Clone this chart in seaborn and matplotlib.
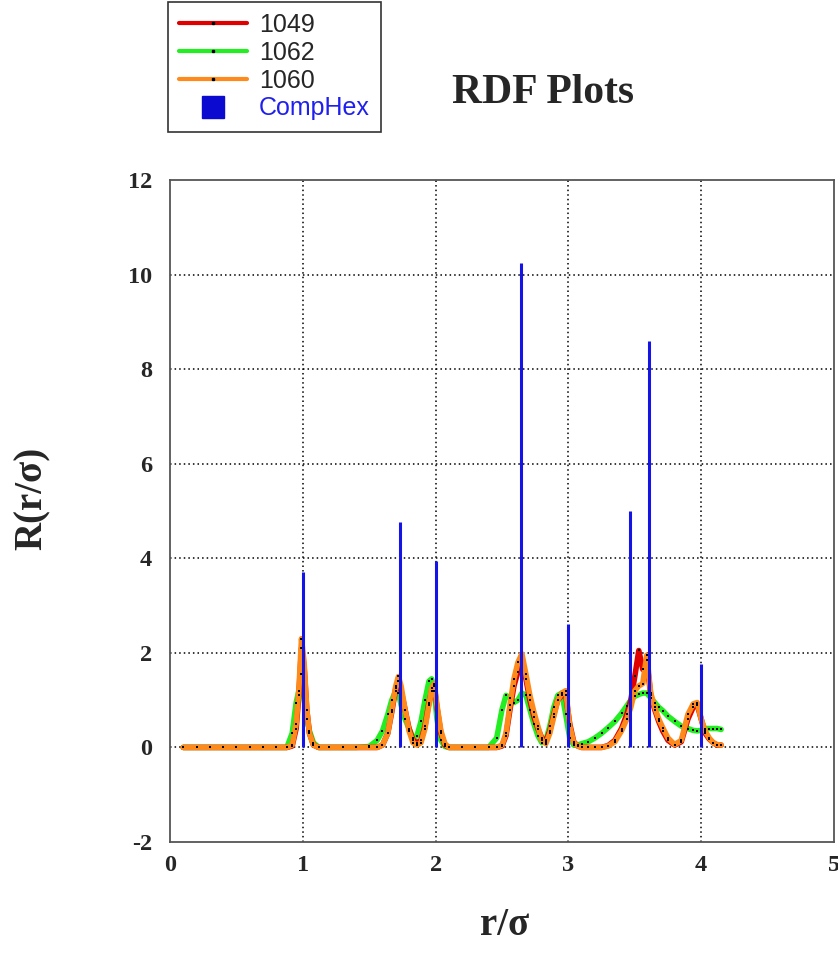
import numpy as np
import pandas as pd
import matplotlib
matplotlib.use("Agg")
import matplotlib.pyplot as plt
from matplotlib.lines import Line2D
import seaborn as sns

# ---------------- data ----------------
r = [0.10, 0.20, 0.30, 0.40, 0.50, 0.60, 0.70, 0.80, 0.88, 0.92,
     0.95, 0.97, 0.99, 1.01, 1.03, 1.05, 1.08, 1.12, 1.20, 1.30,
     1.40, 1.50, 1.56, 1.60, 1.64, 1.67, 1.70, 1.72, 1.74, 1.77,
     1.80, 1.83, 1.86, 1.89, 1.92, 1.95, 1.97, 1.99, 2.01, 2.04,
     2.07, 2.10, 2.20, 2.30, 2.40, 2.46, 2.50, 2.53, 2.56, 2.59,
     2.62, 2.65, 2.68, 2.71, 2.74, 2.77, 2.80, 2.83, 2.86, 2.89,
     2.92, 2.95, 2.98, 3.01, 3.04, 3.07, 3.10, 3.15, 3.20, 3.25,
     3.30, 3.35, 3.40, 3.44, 3.47, 3.50, 3.53, 3.56, 3.59, 3.62,
     3.65, 3.68, 3.71, 3.75, 3.80, 3.85, 3.90, 3.94, 3.97, 4.00,
     4.03, 4.06, 4.09, 4.12, 4.15]

g1049 = [0, 0, 0, 0, 0, 0, 0, 0, 0, 0.03,
         0.4, 1.1, 2.1, 1.7, 0.8, 0.3, 0.05, 0, 0, 0,
         0, 0, 0, 0.05, 0.3, 0.75, 1.25, 1.4, 1.2, 0.8,
         0.4, 0.15, 0.1, 0.15, 0.45, 0.95, 1.2, 1.3, 0.85, 0.3,
         0.05, 0, 0, 0, 0, 0, 0.03, 0.25, 0.8, 1.3,
         1.6, 1.7, 1.45, 1.0, 0.65, 0.4, 0.2, 0.12, 0.35, 0.7,
         1.0, 1.1, 1.1, 0.5, 0.12, 0.03, 0, 0, 0, 0,
         0.04, 0.15, 0.4, 0.7, 1.0, 1.5, 2.05, 1.65, 1.85, 1.1,
         0.8, 0.55, 0.35, 0.15, 0.05, 0.12, 0.6, 0.85, 0.9, 0.6,
         0.3, 0.18, 0.1, 0.05, 0.05]

g1062 = [0, 0, 0, 0, 0, 0, 0, 0, 0, 0.3,
         0.95, 1.2, 1.55, 1.0, 0.6, 0.35, 0.1, 0, 0, 0,
         0, 0.02, 0.15, 0.35, 0.7, 1.0, 1.2, 1.15, 0.9, 0.6,
         0.4, 0.2, 0.25, 0.55, 1.0, 1.4, 1.45, 1.2, 0.6, 0.15,
         0.02, 0, 0, 0, 0, 0.2, 0.8, 1.1, 1.05, 0.95,
         1.0, 1.15, 1.1, 0.8, 0.5, 0.25, 0.1, 0.15, 0.45, 0.85,
         1.1, 1.15, 0.7, 0.2, 0.05, 0.05, 0.08, 0.12, 0.2, 0.3,
         0.42, 0.55, 0.72, 0.88, 1.0, 1.08, 1.12, 1.15, 1.15, 1.05,
         0.95, 0.85, 0.78, 0.66, 0.55, 0.45, 0.4, 0.36, 0.35, 0.36,
         0.4, 0.4, 0.4, 0.4, 0.38]

g1060 = [0, 0, 0, 0, 0, 0, 0, 0, 0, 0.05,
         0.5, 1.2, 2.3, 1.8, 0.8, 0.3, 0.05, 0, 0, 0,
         0, 0, 0, 0.05, 0.3, 0.8, 1.3, 1.5, 1.3, 0.8,
         0.35, 0.1, 0.05, 0.1, 0.4, 0.9, 1.25, 1.35, 0.9, 0.35,
         0.08, 0, 0, 0, 0, 0, 0.05, 0.3, 0.9, 1.45,
         1.8, 1.98, 1.55, 1.1, 0.75, 0.45, 0.15, 0.08, 0.3, 0.65,
         1.0, 1.15, 1.2, 0.45, 0.1, 0.03, 0, 0, 0, 0,
         0.03, 0.12, 0.35, 0.6, 0.85, 1.2, 1.3, 1.35, 1.95, 1.15,
         0.85, 0.6, 0.42, 0.2, 0.06, 0.15, 0.7, 0.92, 0.95, 0.6,
         0.35, 0.2, 0.1, 0.06, 0.05]

hex_r = [1.0, 1.732, 2.0, 2.646, 3.0, 3.464, 3.606, 4.0]
hex_h = [3.72, 4.76, 3.94, 10.24, 2.6, 5.0, 8.59, 1.76]

xticks = [0, 1, 2, 3, 4, 5]
yticks = [-2, 0, 2, 4, 6, 8, 10, 12]

# ---------------- plot ----------------
sns.set_style("white")
plt.rcParams["font.family"] = ["DejaVu Sans"]
plt.rcParams["axes.unicode_minus"] = False

fig = plt.figure(figsize=(8.38, 9.55), dpi=100)
ax = fig.add_axes([170 / 838, 1 - 842 / 955, 664 / 838, 662 / 955])

colors = {"1049": "#e00000", "1060": "#ff8a1c", "1062": "#22ee22"}
frames = []
for name, vals in [("1049", g1049), ("1060", g1060), ("1062", g1062)]:
    frames.append(pd.DataFrame({"r": r, "g": vals, "run": name}))
df = pd.concat(frames, ignore_index=True)

for i, name in enumerate(["1062", "1049", "1060"]):
    sub = df[df["run"] == name]
    sns.lineplot(data=sub, x="r", y="g", ax=ax, color=colors[name], lw=4,
                 sort=False, estimator=None, legend=False, zorder=3 + i)
for name in ["1062", "1049", "1060"]:
    sub = df[df["run"] == name]
    sns.scatterplot(data=sub, x="r", y="g", ax=ax, color="black", s=3,
                    marker="s", linewidth=0, legend=False, zorder=7)

ax.vlines(hex_r, 0, hex_h, colors="#1414e6", lw=2.2, zorder=8)

ax.set_xlim(0, 5)
ax.set_ylim(-2, 12)
ax.set_xticks(xticks)
ax.set_yticks(yticks)
ax.set_xticklabels([str(t) for t in xticks])
ax.set_yticklabels([str(t) for t in yticks])
ax.tick_params(axis="y", length=0, pad=13)
ax.tick_params(axis="x", length=0, pad=9)
for lab in ax.get_xticklabels() + ax.get_yticklabels():
    lab.set_fontfamily("Liberation Serif")
    lab.set_fontweight("bold")
    lab.set_fontsize(17.5)
ax.set_xlabel("")
ax.set_ylabel("")

for xv in [1, 2, 3, 4]:
    ax.axvline(xv, color="black", lw=1.1, ls=(0, (1, 2)), zorder=1)
for yv in [0, 2, 4, 6, 8, 10]:
    ax.axhline(yv, color="black", lw=1.1, ls=(0, (1, 2)), zorder=1)

for sp in ax.spines.values():
    sp.set_color("#555555")
    sp.set_linewidth(1.3)

fig.text(32 / 838, 1 - 498 / 955, "R(r/σ)", rotation=90, ha="center", va="center",
         fontfamily="Liberation Serif", fontweight="bold", fontsize=28)
fig.text(505 / 838, 1 - 925 / 955, "r/σ", ha="center", va="center",
         fontfamily="Liberation Serif", fontweight="bold", fontsize=28)
fig.text(543 / 838, 1 - 93 / 955, "RDF Plots", ha="center", va="center",
         fontfamily="Liberation Serif", fontweight="bold", fontsize=30)

handles = [
    Line2D([], [], color=colors["1049"], lw=3, marker="s", markersize=2,
           markerfacecolor="black", markeredgecolor="black"),
    Line2D([], [], color=colors["1062"], lw=3, marker="s", markersize=2,
           markerfacecolor="black", markeredgecolor="black"),
    Line2D([], [], color=colors["1060"], lw=3, marker="s", markersize=2,
           markerfacecolor="black", markeredgecolor="black"),
    Line2D([], [], color="#0a0ad0", lw=0, marker="s", markersize=16),
]
leg = fig.legend(handles, ["1049", "1062", "1060", "CompHex"],
                 loc="upper left", bbox_to_anchor=(168 / 838, 1 - 2 / 955),
                 frameon=True, fancybox=False, edgecolor="black",
                 prop={"family": "Liberation Sans", "size": 18},
                 handlelength=2.7, handletextpad=0.5, labelspacing=0.15,
                 borderpad=0.45, borderaxespad=0)
leg.get_frame().set_linewidth(1.2)
leg.get_texts()[3].set_color("#2020ee")

fig.savefig("out.png", dpi=100)
